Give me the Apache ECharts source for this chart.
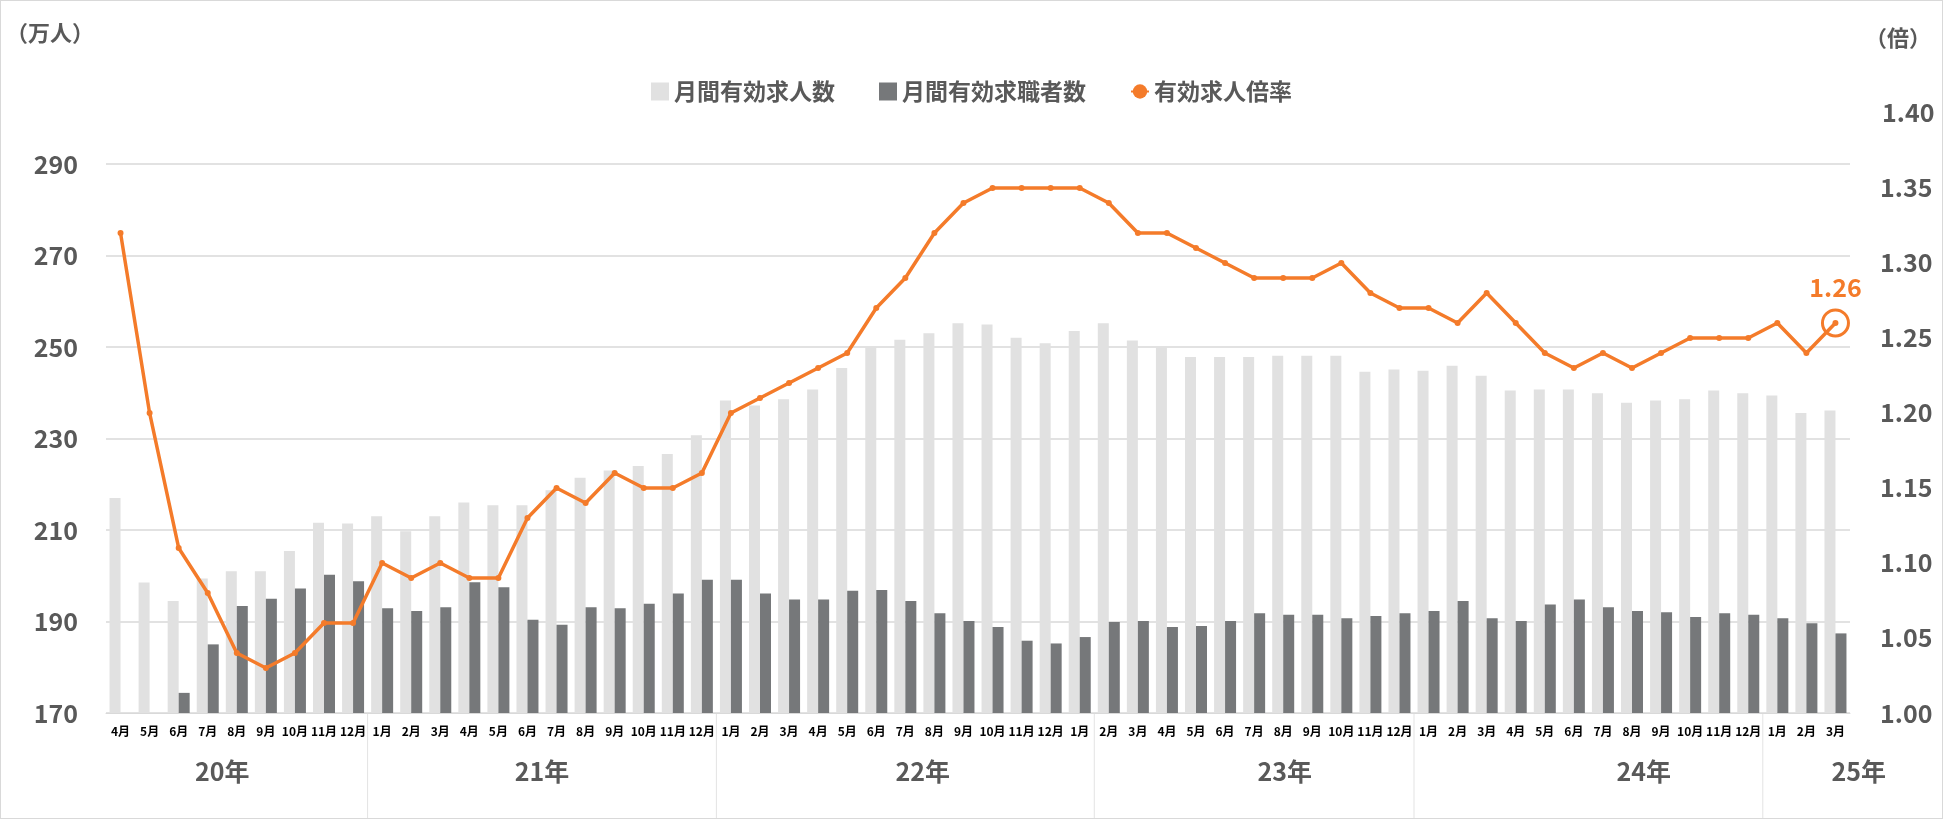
<!DOCTYPE html>
<html><head><meta charset="utf-8">
<script src="https://cdn.jsdelivr.net/npm/echarts@6/dist/echarts.min.js"></script>
<style>html,body{margin:0;padding:0;background:#fff}#c{width:1943px;height:819px;box-sizing:border-box;border:1px solid #d9d9d9}</style>
</head><body><div id="c"></div>
<script>
const months = ['4月','5月','6月','7月','8月','9月','10月','11月','12月',
 '1月','2月','3月','4月','5月','6月','7月','8月','9月','10月','11月','12月',
 '1月','2月','3月','4月','5月','6月','7月','8月','9月','10月','11月','12月',
 '1月','2月','3月','4月','5月','6月','7月','8月','9月','10月','11月','12月',
 '1月','2月','3月','4月','5月','6月','7月','8月','9月','10月','11月','12月',
 '1月','2月','3月'];
const openings = [217,198.5,194.5,199.4,201,201,205.4,211.6,211.4,
 213,209.7,213,216,215.4,215.4,218.7,221.4,223,224,226.6,230.7,
 238.3,237.2,238.6,240.7,245.4,250,251.6,253,255.2,254.9,252,250.8,
 253.5,255.2,251.4,250,247.8,247.8,247.8,248.1,248.1,248.1,244.6,245.1,
 244.8,245.9,243.7,240.5,240.7,240.7,239.9,237.8,238.3,238.6,240.5,239.9,
 239.4,235.6,236.1];
const seekers = [null,null,174.4,185,193.4,195,197.2,200.2,198.8,
 192.9,192.3,193.1,198.6,197.5,190.4,189.3,193.1,192.9,193.9,196.1,199.1,
 199.1,196.1,194.8,194.8,196.7,196.9,194.5,191.8,190.1,188.8,185.8,185.2,
 186.6,189.9,190.1,188.8,189,190.1,191.8,191.5,191.5,190.7,191.2,191.8,
 192.3,194.5,190.7,190.1,193.7,194.8,193.1,192.3,192,191,191.8,191.5,
 190.7,189.6,187.4];
const ratio = [1.32,1.20,1.11,1.08,1.04,1.03,1.04,1.06,1.06,
 1.10,1.09,1.10,1.09,1.09,1.13,1.15,1.14,1.16,1.15,1.15,1.16,
 1.20,1.21,1.22,1.23,1.24,1.27,1.29,1.32,1.34,1.35,1.35,1.35,
 1.35,1.34,1.32,1.32,1.31,1.30,1.29,1.29,1.29,1.30,1.28,1.27,
 1.27,1.26,1.28,1.26,1.24,1.23,1.24,1.23,1.24,1.25,1.25,1.25,
 1.26,1.24,1.26];
const yearLabels = ['20年','21年','22年','23年','24年','25年'];
const yearCenters = [3.5,14.5,27.6,40.05,52.4,59.8];
const yearBounds = [8.5,20.5,33.5,44.5,56.5];

const FONT = '"Noto Sans CJK JP","Noto Sans",sans-serif';
const GRAY = '#595959', ORANGE = '#F47B2A';
const chart = echarts.init(document.getElementById('c'));
const last = ratio.length-1;
chart.setOption({
  animation:false,
  textStyle:{fontFamily:FONT},
  grid:{left:105,right:92,top:163,bottom:105},
  legend:{top:74,left:'center',itemGap:44,itemWidth:18,itemHeight:18,
    textStyle:{fontSize:23,fontWeight:'bold',color:GRAY,fontFamily:FONT},
    data:[{name:'月間有効求人数',icon:'rect'},{name:'月間有効求職者数',icon:'rect'},{name:'有効求人倍率'}]},
  xAxis:{type:'category',data:months,axisTick:{show:false},
    axisLine:{lineStyle:{color:'#d9d9d9'}},
    axisLabel:{interval:0,fontSize:12,fontWeight:'bold',color:'#000',margin:12,fontFamily:FONT}},
  yAxis:[
    {type:'value',min:170,max:290,interval:20,name:'（万人）',nameLocation:'end',nameGap:0,
     nameTextStyle:{fontSize:22,fontWeight:'bold',color:GRAY,align:'left',padding:[0,0,120,-100]},
     axisLabel:{fontSize:25,fontWeight:'bold',color:GRAY,margin:28},
     splitLine:{lineStyle:{color:'#d9d9d9',width:1.5}},axisLine:{show:false},axisTick:{show:false}},
    {type:'value',min:1.0,max:1.0+0.4*441/482,interval:0.05,name:'（倍）',nameLocation:'end',nameGap:0,
     nameTextStyle:{fontSize:22,fontWeight:'bold',color:GRAY,align:'left',padding:[0,0,115,15]},
     axisLabel:{fontSize:25,fontWeight:'bold',color:GRAY,margin:30,
       formatter:v=>Math.abs(v*20-Math.round(v*20))<1e-6 ? v.toFixed(2) : ''},
     splitLine:{show:false},axisLine:{show:false},axisTick:{show:false}}
  ],
  series:[
    {name:'月間有効求人数',type:'bar',data:openings,barWidth:11,barGap:'0%',itemStyle:{color:'#E1E1E1'}},
    {name:'月間有効求職者数',type:'bar',data:seekers,barWidth:11,itemStyle:{color:'#76787A'}},
    {name:'有効求人倍率',type:'line',yAxisIndex:1,data:ratio,symbol:'circle',symbolSize:6,
     lineStyle:{color:ORANGE,width:3.5},itemStyle:{color:ORANGE},
     markPoint:{symbol:'circle',symbolSize:26,silent:true,
       itemStyle:{color:'rgba(0,0,0,0)',borderColor:ORANGE,borderWidth:3},
       label:{show:true,position:'top',distance:8,formatter:String(ratio[last].toFixed(2)),color:ORANGE,fontSize:25,fontWeight:'bold',fontFamily:FONT},
       data:[{coord:[last,ratio[last]]}]}}
  ]
});
const yBase = chart.convertToPixel({yAxisIndex:0},170);
const y140 = chart.convertToPixel({yAxisIndex:1},1.40);
const gx = i => chart.convertToPixel({xAxisIndex:0}, 0) + i*(chart.convertToPixel({xAxisIndex:0},1)-chart.convertToPixel({xAxisIndex:0},0));
const g = [];
yearLabels.forEach((t,i)=>g.push({type:'text',x:gx(yearCenters[i]),y:yBase+58,
  style:{text:t,fill:GRAY,font:'bold 25px '+FONT,textAlign:'center',textVerticalAlign:'middle'}}));
yearBounds.forEach(b=>g.push({type:'line',shape:{x1:gx(b),y1:yBase,x2:gx(b),y2:819},style:{stroke:'#e3e3e3',lineWidth:1}}));
g.push({type:'text',x:1943-92+30,y:y140,style:{text:'1.40',fill:GRAY,font:'bold 25px '+FONT,textAlign:'left',textVerticalAlign:'middle'}});
chart.setOption({graphic:g});
</script></body></html>
